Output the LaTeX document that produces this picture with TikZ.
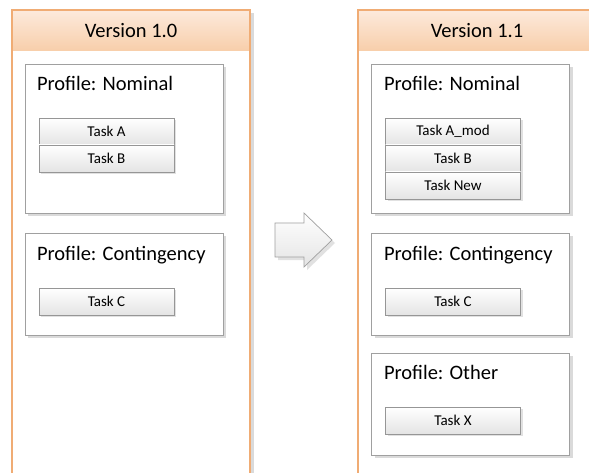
\documentclass[tikz,border=0pt]{standalone}
\usepackage{fontspec}
\setmainfont{Carlito}
\usetikzlibrary{shadows}

\definecolor{colborder}{RGB}{240,172,116}
\definecolor{headtop}{RGB}{252,234,220}
\definecolor{headbot}{RGB}{248,206,170}
\definecolor{boxgray}{RGB}{160,160,160}
\definecolor{taskgray}{RGB}{150,150,150}
\definecolor{shadowgray}{RGB}{218,218,218}
\definecolor{taskbot}{RGB}{228,228,228}

\tikzset{
  every node/.style={inner sep=0pt, outer sep=0pt},
  colline/.style={draw=colborder, line width=1.2pt},
  header/.style={top color=headtop, bottom color=headbot, minimum width=238, minimum height=41,
                 font=\fontsize{20.5}{24}\selectfont},
  profile/.style={draw=boxgray, fill=white, line width=0.8pt, minimum width=198,
                  drop shadow={shadow xshift=3pt, shadow yshift=-3pt, fill=shadowgray, opacity=1}},
  ptitle/.style={anchor=base west, font=\fontsize{20.5}{24}\selectfont},
  task/.style={draw=taskgray, top color=white, bottom color=taskbot, line width=0.7pt,
               minimum width=135, minimum height=27, font=\fontsize{15}{17}\selectfont,
               drop shadow={shadow xshift=2pt, shadow yshift=-2pt, fill=shadowgray, opacity=0.8}},
  bigarrow/.style={draw=boxgray, top color=white, bottom color=taskbot, line width=0.7pt,
                   line join=miter,
                   drop shadow={shadow xshift=3pt, shadow yshift=-3pt, fill=shadowgray, opacity=0.8}}
}

\begin{document}
\begin{tikzpicture}[x=1pt, y=-1pt]
  \clip (0,0) rectangle (589,473);
  \fill[white] (0,0) rectangle (589,473);

  % ---------- version 1.0 column ----------
  \fill[shadowgray] (251,13) rectangle (254,473);
  \node[header] (h1) at (131,30.5) {Version 1.0};
  \coordinate (c1b) at (12,480);
  \draw[colline] (c1b) -- (h1.north west) -- (h1.north east) -- (h1.north east |- c1b);

  \node[profile, minimum height=149] (p1) at (124,138.5) {};
  \node[ptitle] (t1) at (37,91) {Profile: Nominal};
  \node[task] (a1) at (106.5,131.5) {Task A};
  \node[task] (b1) at (106.5,158.5) {Task B};

  \node[profile, minimum height=102] (p2) at (124,284) {};
  \node[ptitle] (t2) at (37,260) {Profile: Contingency};
  \node[task] (c1) at (106.5,301.5) {Task C};

  % ---------- transition arrow ----------
  \path[bigarrow] (275,223) -- (304,223) -- (304,213) -- (332,240)
                  -- (304,267) -- (304,257) -- (275,257) -- cycle;

  % ---------- version 1.1 column ----------
  \node[header] (h2) at (477,30.5) {Version 1.1};
  \coordinate (c2b) at (358,480);
  \draw[colline] (c2b) -- (h2.north west) -- (h2.north east);

  \node[profile, minimum height=149] (q1) at (470.5,138.5) {};
  \node[ptitle] (s1) at (384,91) {Profile: Nominal};
  \node[task] (a2) at (453,131.5) {Task A\_mod};
  \node[task] (b2) at (453,158.5) {Task B};
  \node[task] (n2) at (453,185.5) {Task New};

  \node[profile, minimum height=102] (q2) at (470.5,284) {};
  \node[ptitle] (s2) at (384,260) {Profile: Contingency};
  \node[task] (c2) at (453,301.5) {Task C};

  \node[profile, minimum height=102] (q3) at (470.5,404) {};
  \node[ptitle] (s3) at (384,379) {Profile: Other};
  \node[task] (x2) at (453,420.5) {Task X};
\end{tikzpicture}
\end{document}
